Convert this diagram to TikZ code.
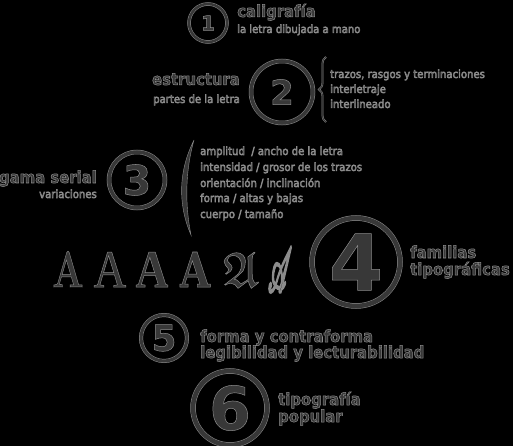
\documentclass[tikz,border=0pt]{standalone}
\usepackage{fontspec}
\usepackage{amssymb}
\usepackage{mathrsfs}
\usetikzlibrary{decorations.pathreplacing}

\newfontfamily\headfont{DejaVu Sans Condensed}
\newfontfamily\digitfont{DejaVu Sans}
\newfontfamily\timesfont{Liberation Serif}
\newfontfamily\slabfont{DejaVu Serif}

\definecolor{ink}{HTML}{383838}
\definecolor{rim}{HTML}{8C8C8C}
% thin light edge round the dark letters
\newcommand{\halo}[1]{\special{pdf:literal direct 2 Tr 0.5 w 0.55 0.55 0.55 RG}#1\special{pdf:literal direct 0 Tr}}

\begin{document}
\begin{tikzpicture}[x=1pt, y=-1pt]
	\tikzstyle{ring} = [circle, draw=rim, double=ink, line width=0.5pt, inner sep=0pt, text=ink]
	\tikzstyle{head} = [inner sep=0pt, text=ink, font=\headfont\bfseries\fontsize{16.5}{16.5}\selectfont]
	\tikzstyle{note} = [inner sep=0pt, text=ink, font=\headfont\fontsize{11.2}{11.2}\selectfont]
	\tikzstyle{glyph} = [inner sep=0pt, anchor=base, text=ink]
	
	\fill[black] (0,0) rectangle (513,446);
	\useasboundingbox (0,0) rectangle (513,446);
	
	% numbered rings
	\node[ring, minimum size=38, double distance=2.5, font=\digitfont\bfseries\fontsize{20}{20}\selectfont] at (208,23) (r1) {\halo{1}};
	\node[ring, minimum size=62, double distance=3.5, font=\digitfont\bfseries\fontsize{34}{34}\selectfont] at (282,92) (r2) {\halo{2}};
	\node[ring, minimum size=56, double distance=3.5, font=\digitfont\bfseries\fontsize{41}{41}\selectfont] at (137,180) (r3) {\halo{3}};
	\node[ring, minimum size=88, double distance=4.5, font=\digitfont\bfseries\fontsize{78}{78}\selectfont] at (356,262) (r4) {\halo{4}};
	\node[ring, minimum size=46, double distance=3, font=\digitfont\bfseries\fontsize{36}{36}\selectfont] at (164,338) (r5) {\halo{5}};
	\node[ring, minimum size=74, double distance=4.5, font=\digitfont\bfseries\fontsize{60}{60}\selectfont] at (230,408) (r6) {\halo{6}};
	
	% 1
	\node[head, anchor=base west] at (237,17) (cal) {\halo{caligrafía}};
	\node[note, anchor=base west] at (237,33) (calnote) {\halo{la letra dibujada a mano}};
	
	% 2
	\node[head, anchor=base east] at (240,85) (est) {\halo{estructura}};
	\node[note, anchor=base east] at (240,103) (estnote) {\halo{partes de la letra}};
	\coordinate (bracetop) at (326,57);
	\coordinate (bracebot) at (326,122);
	\draw[rim, line width=1.8pt, decorate, decoration={brace, amplitude=7pt}] (bracebot) -- (bracetop);
	\draw[ink, line width=1pt, decorate, decoration={brace, amplitude=7pt}] (bracebot) -- (bracetop);
	\node[note, anchor=base west] at (330,78) (est1) {\halo{trazos, rasgos y terminaciones}};
	\node[note, anchor=base west] at (330,93) (est2) {\halo{interletraje}};
	\node[note, anchor=base west] at (330,108) (est3) {\halo{interlineado}};
	
	% 3
	\node[head, anchor=base east] at (97,183) (gam) {\halo{gama serial}};
	\node[note, anchor=base east] at (97,198) (gamnote) {\halo{variaciones}};
	\fill[ink, draw=rim, line width=0.4pt] (194,140) .. controls (178,172) and (178,205) .. (191,235)
		.. controls (185,205) and (185,172) .. (194,140) -- cycle;
	\node[note, anchor=base west] at (200,155) (gam1) {\halo{amplitud~ / ancho de la letra}};
	\node[note, anchor=base west] at (200,171) (gam2) {\halo{intensidad / grosor de los trazos}};
	\node[note, anchor=base west] at (200,187) (gam3) {\halo{orientación / inclinación}};
	\node[note, anchor=base west] at (200,202) (gam4) {\halo{forma / altas y bajas}};
	\node[note, anchor=base west] at (200,218) (gam5) {\halo{cuerpo / tamaño}};
	
	% 4
	\node[glyph, font=\bfseries\fontsize{51}{51}\selectfont] at (68,287) (a1) {\halo{\scalebox{0.72}[1]{A}}};
	\node[glyph, font=\timesfont\fontsize{53}{53}\selectfont] at (110,287) (a2) {\halo{\scalebox{0.85}[1]{A}}};
	\node[glyph, font=\timesfont\bfseries\fontsize{53}{53}\selectfont] at (152,287) (a3) {\halo{\scalebox{0.85}[1]{A}}};
	\node[glyph, font=\slabfont\bfseries\fontsize{48}{48}\selectfont] at (195,287) (a4) {\halo{\scalebox{0.8}[1]{A}}};
	\node[glyph, font=\fontsize{50}{50}\selectfont] at (241,287) (a5) {\halo{$\mathfrak{A}$}};
	\node[glyph] at (280,292) (a6) {\halo{\resizebox{24pt}{44pt}{$\mathscr{A}$}}};
	\node[head, anchor=base west] at (410,258) (fam) {\halo{familias}};
	\node[head, anchor=base west] at (410,275) (fam2) {\halo{tipográficas}};
	
	% 5
	\node[head, anchor=base west] at (200,342) (for) {\halo{forma y contraforma}};
	\node[head, anchor=base west] at (200,358) (for2) {\halo{legibilidad y lecturabilidad}};
	
	% 6
	\node[head, anchor=base west] at (278,405) (pop) {\halo{tipografía}};
	\node[head, anchor=base west] at (278,422) (pop2) {\halo{popular}};
\end{tikzpicture}
\end{document}
